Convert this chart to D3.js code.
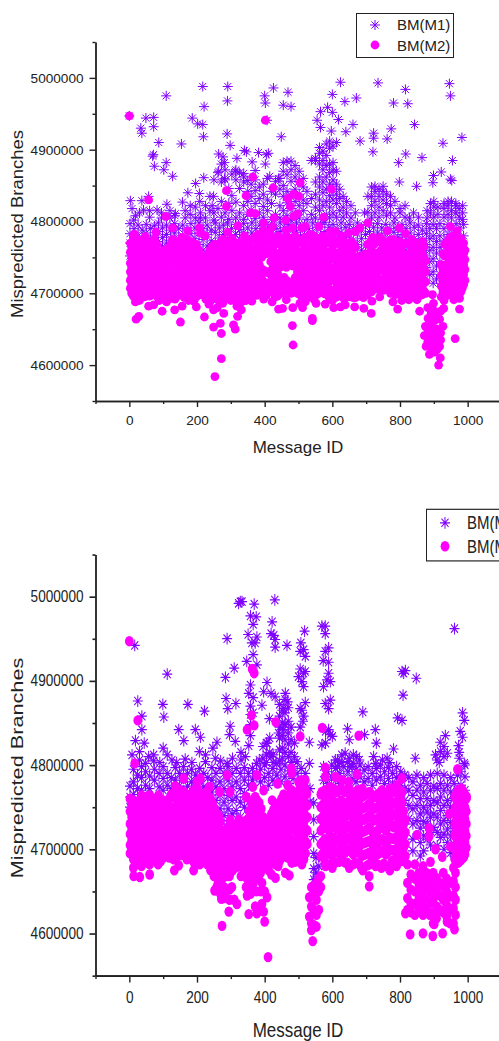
<!DOCTYPE html>
<html>
<head>
<meta charset="utf-8">
<script src="https://d3js.org/d3.v7.min.js"></script>
<style>
html, body {margin: 0; padding: 0; background: #fff;}
svg {display: block; overflow: hidden;}
text {font-family: "Liberation Sans", Arial, sans-serif; fill: #222;}
.axis path, .axis line {stroke: #222; stroke-width: 1.4;}
</style>
</head>
<body>
<svg width="499" height="1041"></svg>
<script>
// every row is [message id, branches in thousands, ...]
var xMajor = [0, 200, 400, 600, 800, 1000];
var xMinor = [-100, 100, 300, 500, 700, 900, 1100];
var yMajor = [4600, 4700, 4800, 4900, 5000];
var yMinor = [4550, 4650, 4750, 4850, 4950, 5050];
var seriesNames = ["BM(M1)", "BM(M2)"];

// first chart, M1 : scattered points above the band
var p1StarTop = [
[109,4975],[217,4988],[291,4988],[290,4968],[221,4960],[400,4975],[402,4965],[426,4986],[469,4980],[455,4962],[478,4960],
[624,4994],[600,4977],[735,4993],[637,4967],[671,4972],[781,4965],[816,4984],[823,4964],[946,4992],[949,4975],[586,4959],
[565,4953],[600,4952],[618,4942],[555,4941],[565,4931],[597,4926],[661,4935],[640,4925],[774,4929],[843,4935],[722,4923],
[722,4916],[762,4915],[682,4912],[720,4897],[983,4917],[927,4909],[817,4894],[796,4882],[865,4889],[955,4885],[922,4869],
[897,4854],[899,4864],[949,4859],[953,4857],[798,4855],[849,4849],[0,4947],[34,4930],[37,4923],[49,4944],[72,4945],[72,4932],
[87,4910],[154,4908],[186,4944],[202,4936],[217,4935],[219,4918],[289,4922],[298,4906],[407,4941],[449,4918],[71,4893],
[74,4877],[69,4891],[109,4882],[102,4872],[128,4863],[220,4861],[196,4853],[173,4840],[207,4839],[208,4828],[157,4827],
[111,4824],[3,4829],[37,4829],[57,4835],[8,4818],[13,4802],[42,4816],[82,4816],[136,4811],[249,4835],[245,4822],[180,4822],
[264,4894],[277,4890],[281,4882],[318,4888],[346,4897],[340,4899],[382,4896],[411,4895],[405,4893],[363,4883],[402,4880],
[264,4870],[281,4860],[313,4870],[338,4867],[372,4871],[415,4863],[441,4860]];
var p1StarMid = [
[18,4808],[30,4812],[60,4806,4815],[95,4805,4812],[120,4805,4815],[135,4808],[165,4805,4815],[180,4810],[195,4805,4820],[210,4805,4812],
[225,4805,4822],[238,4815,4835],[250,4802,4812,4858],[262,4818,4868],[272,4806,4828,4855,4880],[283,4812,4858,4872],
[294,4803,4825,4846],[303,4815,4836,4866],[315,4805,4827,4858,4872],[326,4812,4846,4868],[338,4803,4822,4855,4862],
[350,4810,4828,4842,4857],[360,4816,4835,4852],[372,4804,4825,4843,4858],[384,4812,4832,4848],[396,4806,4821,4838,4852],
[408,4815,4830,4860],[420,4803,4825,4842],[432,4810,4838,4856],[445,4805,4822,4845,4860],[455,4815,4835,4850,4870,4882],
[466,4808,4826,4842,4865,4884],[478,4802,4818,4836,4856,4872,4884],[490,4810,4828,4845,4862,4878],[502,4805,4822,4838,4855,4870],
[514,4815,4830,4848,4860],[525,4803,4825,4842],[538,4810,4832,4885],[550,4805,4820,4838,4855,4885,4888],
[562,4815,4830,4848,4862,4880,4895,4903],[572,4803,4822,4840,4855,4872,4885,4898],[582,4810,4828,4845,4862,4878,4892,4908],
[592,4805,4820,4836,4852,4868,4880,4902,4912],[602,4812,4830,4845,4858,4872,4882,4905],[612,4806,4825,4838,4852,4870,4910],
[622,4815,4832,4845],[632,4806,4820,4835],[642,4812,4828],[655,4805,4822],[668,4812],
[695,4812],[705,4813,4835],[716,4805,4822,4835,4848],[726,4812,4828,4842,4849],[738,4806,4820,4835,4845],[750,4815,4830,4842,4849],
[760,4808,4825,4838],[772,4812,4822,4835],[785,4805,4828],[800,4812,4818],[815,4806,4822],[828,4805],[840,4812],[855,4806],
[880,4805,4815],[890,4812,4825],[900,4806,4820,4828],[912,4810,4820],[930,4806,4818,4825],[942,4810,4822,4828],
[952,4805,4815,4828],[965,4812,4822,4825],[975,4806,4818],[985,4803,4812,4822]];
// first chart, M1 : the band that the M2 dots mostly cover
var p1StarBand = [
[2,4797,4783,4770,4752],[14,4790,4778,4762],[26,4795,4780,4768,4755],[38,4788,4772,4760],[50,4796,4784,4766,4752],[62,4790,4776,4758],
[74,4794,4781,4768],[86,4798,4786,4772,4758],[98,4791,4778,4765,4752],[110,4795,4782,4770,4756],[122,4788,4774,4760],
[134,4797,4784,4768,4754],[146,4790,4776,4762],[158,4795,4780,4766],[170,4788,4772,4758],[182,4797,4783,4770],[194,4791,4776,4762],
[206,4798,4784,4768,4755],[218,4790,4775,4760,4748],[230,4795,4782,4766,4752],[242,4788,4773,4758],[254,4798,4785,4770],
[266,4791,4777,4762],[278,4795,4782,4768],[290,4798,4786,4772],[302,4790,4776],[314,4796,4782,4768],[326,4789,4775],
[338,4797,4785],[350,4791,4778],[362,4798,4784],[374,4790,4776],[386,4795,4782],[398,4799,4788],[410,4792,4778],[422,4796,4784],
[434,4790,4776],[446,4798,4786],[458,4792,4778],[470,4796,4782],[482,4790,4776],[494,4798,4785],[506,4792,4778],[518,4796,4782],
[530,4790,4776],[542,4798,4784],[554,4792,4778],[566,4796,4782],[578,4799,4786],[590,4792,4778],[602,4796,4783],[614,4790,4776],
[626,4798,4785],[638,4792,4778],[650,4796,4782],[662,4790,4774,4762],[674,4798,4784,4768,4752],[686,4791,4776,4760,4748],
[698,4796,4782,4766,4754],[710,4798,4786,4772],[722,4792,4778],[734,4797,4784],[746,4791,4776],[758,4796,4783],[770,4790,4775],
[782,4798,4785],[794,4792,4778],[806,4796,4782,4766],[818,4790,4775,4760],[830,4798,4784,4768,4754],[842,4792,4776,4762],
[854,4795,4782,4765],[866,4788,4774,4760],[878,4797,4783,4768,4752,4736],[888,4790,4776,4760,4744,4726],[898,4796,4780,4764,4748,4730,4714],
[908,4790,4772,4756,4738,4720],[918,4797,4780,4764,4744],[930,4790,4774,4758],[942,4796,4782,4766],[954,4790,4776],
[966,4797,4784,4770],[978,4791,4776],[988,4796,4780]];

// first chart, M2
var p1DotTop = [
[0,4947],[402,4941],[365,4862],[505,4854],[425,4847],[597,4845],[287,4843],[345,4836],[57,4830],[486,4838],[469,4832],[500,4835],
[287,4821],[476,4821],[358,4812],[372,4811],[498,4811],[108,4807],[574,4806],[486,4807],[705,4798],[128,4791],[79,4785],[15,4782],
[47,4779],[173,4787],[207,4791],[210,4784],[224,4780],[291,4785],[321,4794],[340,4780],[397,4798],[397,4788],[428,4805],[423,4793],
[462,4802],[463,4788],[482,4791],[510,4791],[520,4793],[560,4793],[594,4786],[609,4786],[648,4784],[668,4786],[681,4791],[762,4787],
[798,4791],[816,4783],[949,4793],[969,4787],[415,4785],[380,4782],[440,4780],[535,4782],[625,4780],[720,4778],[740,4778],[780,4775],[835,4775]];
var p1DotLow = [
[3,4707],[20,4664],[28,4668],[18,4688],[57,4682],[72,4684],[97,4675],[134,4677],[156,4682],[151,4660],[198,4681],[222,4667],[249,4653],
[269,4658],[272,4644],[272,4609],[253,4584],[279,4672],[249,4677],[308,4656],[313,4650],[331,4677],[320,4668],[362,4689],[397,4692],
[422,4688],[441,4678],[453,4679],[464,4691],[483,4680],[482,4655],[484,4628],[512,4680],[541,4665],[541,4662],[552,4686],[579,4685],
[604,4680],[624,4681],[638,4684],[666,4681],[693,4679],[715,4672],[717,4689],[793,4678],[779,4688],[826,4691],[858,4675],[850,4691],
[976,4678],[963,4637],[959,4691],[976,4693],[896,4698],[899,4686],[883,4665],[875,4654],[872,4641],[877,4626],[887,4615],[919,4610],
[914,4600],[917,4626],[927,4654],[917,4664],[929,4679],[30,4690],[45,4695],[88,4690],[110,4688],[175,4690],[235,4685],[260,4680],[300,4690],
[345,4690],[520,4688],[590,4695],[650,4695],[740,4695],[805,4690],[840,4695],[930,4690],
[882,4680,4650,4632],[892,4672,4656,4640,4625],[902,4675,4662,4645,4630,4618],[910,4668,4650,4635,4622],[920,4675,4645,4635]];
var p1DotCore = [
[3,4770,4757,4742,4730,4718],[12,4780,4765,4750,4735,4722,4708,4696],[24,4775,4760,4745,4730,4715,4702],[36,4768,4755,4742,4726,4712,4698],
[48,4772,4758,4745,4732,4718,4704],[60,4770,4755,4738,4725,4710,4696],[74,4775,4760,4748,4732,4718,4702],[88,4758,4742,4728,4712,4700],
[102,4760,4748,4735,4720,4705,4692],[115,4763,4752,4738,4722,4708,4695],[128,4775,4760,4745,4730,4715,4700],[142,4772,4755,4742,4728,4712,4698],
[156,4778,4762,4748,4735,4718,4702],[170,4775,4760,4745,4730,4715,4700],[184,4772,4758,4742,4728,4712,4696],[198,4768,4752,4738,4725,4710,4695],
[212,4752,4740,4726,4712,4698],[226,4748,4735,4722,4708,4692],[238,4760,4745,4730,4715,4700,4688],[252,4768,4755,4740,4725,4710,4695],
[264,4762,4748,4735,4720,4705,4690],[276,4775,4760,4745,4730,4715,4700,4686],[290,4770,4758,4742,4728,4712,4698],[304,4776,4760,4748,4732,4716,4700],
[318,4770,4755,4740,4725,4710,4695,4682],[332,4772,4758,4744,4730,4715,4700,4688],[346,4775,4760,4745,4732,4718,4702],[358,4772,4755,4740,4726,4712,4698],
[370,4778,4762,4748,4732,4718,4704],[384,4770,4756,4740,4728,4712],[398,4776,4760,4732,4716,4700],[412,4772,4758,4730,4715,4702],
[424,4778,4762,4748,4735,4720,4705],[438,4772,4755,4742,4728,4712,4696],[452,4775,4760,4745,4715,4700],[464,4780,4765,4750,4736,4718,4704],
[478,4776,4760,4745,4712,4700],[490,4780,4765,4750,4738,4722,4706],[504,4772,4758,4742,4728,4712,4698,4686],[518,4778,4762,4748,4732,4718,4702],
[532,4775,4760,4745,4730,4715,4700],[546,4780,4764,4748,4735,4720,4705,4692],[560,4776,4760,4745,4730,4715,4700],[572,4780,4765,4750,4735,4720,4705],
[586,4772,4758,4742,4728,4712,4698],[600,4776,4760,4748,4732,4718,4700,4690],[614,4772,4756,4742,4726,4712,4695],[628,4778,4762,4748,4732,4716,4700],
[642,4770,4755,4740,4728,4712,4696],[656,4772,4758,4745,4730,4715,4700],[668,4764,4750,4738,4722,4708,4694],[680,4752,4738,4725,4710,4696],
[692,4748,4736,4722,4708,4694],[704,4768,4752,4738,4726,4710,4698],[716,4775,4760,4745,4730,4715,4702],[730,4772,4756,4742,4726,4712],
[744,4776,4760,4745,4732,4716],[758,4770,4755,4740,4726,4712],[772,4774,4758,4742,4728,4714,4700],[786,4770,4756,4740,4726,4712,4698],
[800,4772,4758,4745,4730,4715,4700],[814,4770,4755,4740,4726,4712,4698],[826,4755,4740,4728,4712,4698],[840,4772,4758,4745,4730,4715,4702],
[854,4768,4752,4738,4722,4708,4695],[866,4772,4755,4740,4726,4710,4698],[876,4745,4730,4716,4700],[922,4740,4725,4710,4695],[932,4768,4752,4738,4722,4708,4694],
[944,4775,4760,4745,4730,4716,4702],[956,4780,4765,4750,4735,4720,4705],[968,4778,4762,4748,4732,4718,4704],[980,4776,4760,4745,4730,4716,4702],[988,4770,4755,4740,4726,4712]];
var p1DotFill = [
[7,4764,4750,4736,4724,4711,4700],[18,4772,4757,4743,4728,4715,4702],[30,4768,4752,4737,4722,4708,4695],[42,4762,4748,4734,4719,4705],
[54,4765,4751,4738,4725,4711,4697],[67,4763,4747,4731,4717,4703],[81,4768,4752,4740,4725,4710,4696],[95,4752,4735,4720,4706,4694],
[108,4755,4742,4727,4713,4699],[122,4767,4752,4737,4722,4707,4693],[135,4766,4751,4736,4721,4706,4692],[149,4770,4757,4741,4726,4710,4697],
[163,4770,4754,4739,4725,4708,4694],[177,4767,4752,4736,4722,4707,4693],[191,4763,4747,4733,4718,4703,4689],[205,4760,4745,4731,4717,4703],
[219,4746,4732,4718,4703],[232,4754,4738,4726,4711,4696],[245,4765,4750,4736,4720,4706,4692],[258,4760,4745,4730,4716,4702],
[270,4770,4753,4738,4725,4710,4694],[283,4765,4750,4735,4722,4706,4692],[297,4772,4755,4740,4724,4708,4694],[311,4768,4750,4733,4718,4703,4690],
[325,4765,4750,4736,4722,4706,4692],[339,4770,4752,4738,4724,4709,4695],[352,4768,4750,4735,4720,4705],[364,4775,4758,4743,4729,4714,4700],
[377,4772,4755,4741,4725,4710,4697],[391,4780,4766,4750,4734,4720,4705],[405,4770,4755,4729,4712,4697],[418,4775,4760,4744,4726,4710],
[431,4770,4756,4738,4722,4708,4695],[445,4768,4750,4736,4720,4705],[458,4770,4754,4740,4722,4708],[471,4772,4758,4744,4716,4702],
[484,4770,4752,4738,4716,4703],[497,4775,4758,4744,4730,4714,4700],[511,4770,4752,4735,4720,4705,4692],[525,4772,4755,4740,4725,4710,4695],
[539,4770,4752,4738,4722,4708,4694],[553,4772,4756,4740,4725,4710,4698],[566,4770,4755,4738,4724,4708],[579,4775,4758,4744,4728,4714,4699],
[593,4770,4752,4736,4720,4705],[607,4768,4750,4736,4722,4705,4694],[621,4770,4752,4738,4722,4706],[635,4772,4756,4740,4724,4708,4692],
[649,4765,4750,4735,4722,4706],[662,4768,4752,4738,4724,4708,4694],[675,4744,4730,4715,4702],[686,4743,4730,4716,4702],
[698,4755,4743,4730,4716,4702],[710,4770,4756,4743,4722,4706],[723,4768,4752,4737,4722,4707],[737,4772,4750,4735,4720,4705],
[751,4768,4748,4733,4719,4704],[765,4772,4763,4748,4734,4719,4705],[779,4768,4750,4735,4720,4706],[793,4765,4750,4734,4719,4705],
[807,4766,4750,4736,4722,4708],[820,4748,4734,4720,4705],[833,4765,4750,4736,4722,4708],[847,4770,4752,4738,4722,4708,4695],
[860,4762,4746,4732,4716,4702],[871,4765,4748,4733,4718,4703],[927,4755,4733,4718,4702],[938,4770,4755,4738,4724,4710,4697],
[950,4778,4758,4742,4727,4712,4698],[962,4772,4756,4741,4725,4711,4698],[974,4770,4754,4739,4725,4710,4697],[984,4766,4750,4735,4721,4707],
[992,4760,4747,4733,4718]];

// second chart, M1
var p2StarTop = [
[323,4992],[333,4994],[328,4994],[369,4991],[430,4996],[422,4970],[358,4977],[375,4976],[366,4967],[569,4965],[579,4965],[579,4956],
[518,4959],[351,4955],[377,4952],[419,4956],[427,4954],[431,4949],[431,4940],[466,4942],[289,4950],[16,4942],[362,4945],[372,4945],
[366,4931],[507,4945],[505,4935],[515,4937],[520,4929],[589,4939],[579,4935],[573,4924],[589,4922],[347,4923],[377,4919],[310,4915],
[284,4904],[112,4908],[505,4914],[515,4909],[500,4905],[520,4911],[510,4899],[515,4893],[589,4909],[584,4901],[594,4899],[574,4893],
[806,4911],[816,4912],[811,4909],[809,4883],[848,4903],[358,4895],[353,4885],[407,4898],[397,4887],[419,4885],[431,4881],[461,4885],
[286,4879],[291,4867],[315,4873],[392,4871],[99,4872],[102,4857],[25,4876],[37,4858],[173,4872],[222,4864],[468,4875],[456,4867],
[505,4867],[520,4874],[510,4865],[579,4873],[594,4877],[589,4867],[690,4863],[793,4856],[806,4853],[961,4962],[985,4862],[990,4853],
[978,4840],[985,4833],[513,4852],[298,4846],[146,4842],[195,4842],[210,4833],[161,4829],[37,4842],[18,4829],[44,4826],[100,4820],
[207,4816],[247,4820],[259,4827],[296,4836],[313,4828],[353,4823],[414,4855],[441,4838],[456,4842],[645,4843],[650,4830],[695,4836],
[727,4842],[730,4826],[589,4842],[594,4836],[569,4824],[532,4827],[781,4819],[845,4808],[919,4827],[934,4835],[973,4823],[940,4814]];
var p2StarMid = [
[57,4810],[126,4806],[165,4807],[254,4808],[289,4802],[343,4810],[384,4806],[419,4810],[407,4826],[532,4802],[609,4806],[638,4814],
[672,4810],[722,4810],[762,4808],[909,4806],[990,4802],[358,4870,4860,4848,4835],[366,4880,4862],[405,4826,4812,4803],[415,4832,4815],
[395,4822,4808],[425,4812,4803],[444,4872,4858,4845,4832,4818,4805],[452,4865,4850,4835,4820,4808],[460,4878,4862,4848,4830,4815],
[470,4868,4852,4838,4825,4810],[478,4845,4830,4815,4803],[488,4826,4810],[505,4845],[515,4858],[580,4840,4826],[600,4834],
[920,4816],[930,4822,4810],[975,4815,4808],[615,4798,4806],[628,4803,4812],[650,4808,4798],[662,4812,4802],[680,4806],[728,4802],[748,4806],[770,4803],[905,4812],[916,4803],
[8,4812],[30,4806,4816],[48,4802],[72,4805,4812],[90,4803],[112,4812],[140,4803],[185,4803],[225,4804,4812],[270,4805],[305,4808],[330,4806,4815]];
var p2StarBand = [
[2,4775,4762,4750],[12,4795,4780,4765],[24,4788,4772,4758],[36,4798,4785,4770],[48,4792,4776],[60,4787,4772],[74,4795,4782],[88,4790,4774],
[100,4798,4784,4770],[112,4790,4776],[124,4785,4772],[136,4797,4782],[148,4790,4775],[160,4798,4784],[172,4790,4775],[184,4795,4780],
[196,4788,4772],[208,4796,4782],[220,4790,4774],[232,4785,4770],[244,4797,4782,4768],[256,4790,4774,4758],[268,4796,4780,4765,4748,4734],
[280,4790,4772,4756,4740,4725],[292,4798,4782,4764,4748,4730],[304,4790,4774,4758,4742,4726],[316,4796,4780,4762,4746,4730],
[328,4790,4772,4756,4738,4722],[340,4797,4782,4766,4750],[352,4790,4776],[364,4796,4782],[376,4802,4788],[388,4795,4780],[400,4800,4785],
[412,4790,4776],[424,4796,4782],[436,4802,4788],[448,4795,4780],[460,4800,4786],[472,4793,4778],[484,4798,4784],[496,4804,4790],
[508,4796,4782],[520,4790,4776],[534,4772,4756],[545,4755,4735,4715,4695,4677,4664],[552,4690,4672,4665],[560,4680],[574,4798,4782],[586,4792,4778],
[598,4800,4786],[610,4796,4782],[622,4803,4790,4778],[634,4798,4784],[646,4804,4792,4778],[658,4798,4784],[670,4795,4780],[682,4800,4786],
[694,4794,4780],[706,4798,4784],[718,4790,4776],[730,4796,4782],[742,4800,4786],[754,4792,4778],[766,4797,4784],[778,4790,4776],
[790,4798,4785],[802,4792,4776],[814,4788,4772,4758],[826,4785,4770,4752,4736],[838,4780,4764,4748,4730,4712,4698],[850,4788,4770,4752,4734],
[860,4776,4760,4742,4725,4708,4692],[870,4785,4768,4750,4733,4716,4698],[880,4778,4760,4744,4730,4712],[890,4788,4770,4752,4738,4722,4705],
[900,4775,4758,4742,4726],[910,4790,4772,4755,4738,4720,4704],[920,4778,4762,4746,4730,4714],[930,4788,4770,4752,4734,4718,4700],
[940,4776,4758,4740,4724,4708],[950,4785,4768,4750,4732,4716,4696],[960,4778,4760,4742,4725,4706,4692],[970,4788,4770,4752],[980,4792,4776],[992,4800,4786,4770]];

// second chart, M2
var p2DotTop = [
[0,4947],[363,4914],[369,4909],[25,4853],[361,4859],[369,4847],[348,4842],[433,4851],[505,4834],[570,4844],[678,4835],[16,4802],
[479,4796],[579,4797],[970,4795],[136,4775],[161,4784],[200,4780],[210,4784],[237,4774],[267,4768],[289,4788],[298,4768],[377,4788],
[365,4774],[397,4770],[346,4762],[422,4758],[438,4778],[468,4776],[481,4790],[510,4782],[520,4782],[500,4780],[525,4766],[579,4786],
[569,4768],[594,4774],[609,4786],[629,4782],[648,4780],[673,4789],[689,4772],[732,4762],[762,4760],[790,4776],[806,4784],[806,4768],
[973,4766],[997,4762],[850,4717],[886,4725],[886,4715],[905,4700],[946,4742],[949,4703],[890,4685],[925,4691],[988,4691]];
var p2DotLow = [
[410,4572],[274,4609],[400,4614],[542,4591],[830,4599],[868,4600],[897,4597],[926,4600],[961,4605],[901,4611],[816,4624],[939,4614],
[353,4623],[377,4624],[397,4626],[372,4632],[294,4626],[318,4635],[272,4641],[252,4651],[303,4655],[358,4647],[407,4643],[392,4635],
[13,4668],[31,4667],[60,4670],[133,4675],[146,4681],[190,4675],[85,4682],[709,4656],[709,4668],[461,4672],[473,4669],[432,4666],
[382,4666],[250,4668],[262,4660],[275,4665],[285,4650],[290,4668],[310,4640],[345,4655],[352,4668],[367,4660],[392,4660],[400,4650],
[420,4670],[440,4680],[305,4675],[325,4680],[340,4675],[370,4680],[395,4678],[412,4675],[20,4685],[45,4688],[100,4690],[170,4688],
[190,4685],[230,4682],[240,4675],[490,4685],[510,4682],[580,4680],[600,4678],[650,4678],[690,4675],[715,4685],[745,4678],[770,4675],[790,4680],
[258,4672,4655],[268,4675,4662,4648],[280,4670,4655,4642],[296,4668,4652,4640],[330,4668],[348,4665,4645],[360,4670,4655],[375,4672,4650],[388,4672,4650,4628],
[532,4643,4620],[538,4655,4632,4612,4604],[546,4648,4628,4610],[553,4660,4640,4622,4608],[560,4665,4650,4628],[566,4668,4655],
[822,4682,4660,4642,4628],[832,4670,4652,4636,4625],[844,4682,4665,4650,4635,4622],[856,4672,4658,4642,4628],[868,4680,4665,4650,4635,4622],
[878,4672,4656,4640,4628],[888,4664,4650,4636,4622],[898,4672,4656,4640,4625,4612],[908,4666,4650,4632,4618],[918,4660,4645,4628],
[928,4672,4656,4640,4625],[938,4665,4650,4634,4620],[948,4660,4644,4628,4612],[958,4678,4662,4645,4630,4612],[964,4672,4655,4640,4622]];
var p2DotCore = [
[2,4760,4745,4730,4718,4705,4695],[12,4758,4744,4730,4716,4702,4688,4678],[24,4752,4738,4725,4712,4698,4685],[36,4764,4750,4735,4722,4708,4694,4680],
[48,4762,4748,4732,4718,4704,4690],[60,4764,4750,4736,4722,4708,4695,4682],[72,4760,4745,4732,4718,4704,4690],[86,4764,4750,4736,4722,4706,4692],
[100,4758,4745,4730,4716,4702],[112,4754,4740,4726,4712,4698],[124,4765,4750,4736,4722,4708,4695],[138,4760,4746,4732,4718,4704,4690],
[150,4770,4756,4742,4728,4714,4700],[162,4768,4752,4738,4724,4710,4696],[176,4762,4748,4734,4720,4706,4692],[190,4770,4756,4742,4726,4712,4698],
[202,4772,4758,4744,4730,4716,4702,4688],[214,4765,4750,4736,4722,4708,4694],[228,4768,4754,4740,4726,4712,4698],[240,4760,4746,4730,4716,4702,4690],
[252,4748,4734,4720,4706,4692,4680],[264,4740,4726,4712,4698,4684],[274,4722,4708,4694,4680],[286,4718,4704,4690,4676],[298,4735,4722,4708,4694,4682],
[312,4728,4714,4700,4686],[324,4735,4720,4706,4692,4680],[336,4720,4706,4692,4684],[348,4735,4722,4708,4694,4680],[360,4755,4740,4726,4712,4698,4686],
[372,4762,4748,4734,4720,4706,4692,4680],[384,4755,4740,4724,4710,4696,4684],[396,4738,4724,4710,4696,4684],[408,4730,4716,4702,4690,4680],
[420,4742,4728,4714,4700,4688],[432,4752,4738,4724,4710,4696,4682],[444,4755,4740,4726,4712,4698,4686],[456,4765,4750,4736,4722,4708,4694],
[468,4760,4746,4732,4718,4704,4690],[480,4770,4756,4742,4728,4712,4698,4684],[492,4765,4750,4736,4722,4708,4694],[504,4772,4758,4744,4730,4716,4702,4688],
[516,4775,4760,4746,4732,4716,4702,4688],[526,4752,4738,4722,4706],[566,4765,4750,4736,4722,4706,4692],[578,4770,4756,4742,4728,4712,4698,4684],
[590,4765,4750,4736,4722,4708,4694],[602,4772,4758,4744,4730,4714,4700,4686],[614,4768,4752,4738,4724,4710,4696],[626,4772,4758,4744,4730,4716,4702,4688],
[638,4768,4752,4738,4724,4710,4696,4684],[650,4772,4758,4744,4728,4714,4700],[662,4765,4750,4736,4722,4708,4694,4682],[674,4770,4756,4742,4728,4714,4700],
[686,4762,4748,4734,4720,4706,4692,4678],[698,4765,4750,4736,4722,4708,4694],[710,4768,4754,4740,4726,4710,4696,4682],[722,4762,4748,4734,4718,4704,4692],
[734,4765,4750,4736,4722,4708,4694,4682],[746,4770,4756,4742,4728,4712,4698],[758,4765,4750,4736,4722,4708,4694,4680],[770,4772,4758,4744,4730,4714,4700],
[782,4768,4754,4740,4726,4712,4698,4684],[794,4772,4758,4744,4730,4716,4702,4690],[806,4755,4740,4726,4712,4698,4686],[816,4735,4720,4706,4692],
[962,4762,4748,4730,4716,4700,4688],[972,4770,4756,4742,4728,4712,4698,4684],[982,4772,4758,4744,4730,4716,4702,4688],[992,4765,4750,4736,4722,4708,4694]];
var p2DotFill = [
[7,4752,4738,4724,4711,4698],[18,4752,4737,4723,4709,4695,4682],[30,4758,4744,4731,4716,4703,4690],[42,4757,4743,4728,4715,4701,4687],
[54,4756,4741,4725,4711,4697,4684],[66,4757,4743,4729,4715,4701,4688],[79,4755,4738,4725,4711,4697],[93,4757,4743,4729,4714,4699,4686],
[106,4752,4737,4723,4709,4695],[118,4760,4745,4731,4717,4703,4690],[131,4762,4743,4729,4715,4701,4688],[144,4765,4753,4739,4725,4711,4697],
[156,4762,4749,4735,4721,4707,4693],[169,4765,4755,4741,4727,4713,4699],[183,4766,4752,4738,4723,4709,4695],[196,4765,4749,4736,4722,4707,4692],
[208,4766,4751,4737,4723,4709,4695,4682],[221,4760,4745,4731,4717,4703,4688],[234,4762,4747,4733,4719,4705,4692],[246,4754,4738,4723,4709,4696,4683],
[258,4742,4727,4713,4699,4686,4672],[269,4733,4719,4705,4691,4677],[280,4714,4700,4686,4672],[292,4726,4712,4698,4684],[305,4730,4716,4701,4688,4675],
[318,4721,4707,4693,4679],[330,4727,4713,4699,4686],[342,4728,4714,4700,4687],[354,4745,4731,4717,4703,4690,4676],[366,4758,4744,4730,4716,4702,4688],
[378,4758,4742,4727,4713,4699,4686],[390,4748,4732,4717,4703,4690,4676],[402,4734,4720,4706,4693,4680],[414,4736,4722,4708,4695,4683],
[426,4747,4733,4719,4705,4692],[438,4754,4731,4717,4703,4689],[450,4760,4745,4731,4717,4703,4690],[462,4763,4753,4739,4725,4711,4697],
[474,4765,4751,4737,4723,4708,4694],[486,4767,4753,4739,4725,4710,4696],[498,4768,4754,4740,4726,4712,4698],[510,4773,4760,4746,4732,4718,4703,4690],
[521,4770,4753,4739,4724,4709,4695],[572,4768,4753,4739,4725,4709,4695],[584,4767,4753,4739,4725,4710,4696,4682],[596,4768,4754,4740,4726,4712,4698],
[608,4770,4755,4741,4727,4711,4697,4684],[620,4770,4755,4741,4727,4713,4699,4685],[632,4770,4755,4741,4727,4713,4699],[644,4770,4755,4741,4726,4712,4698,4684],
[656,4768,4754,4740,4725,4711,4697],[668,4767,4753,4739,4725,4711,4697,4684],[680,4765,4752,4738,4724,4710,4696,4682],[692,4763,4749,4735,4721,4707,4693],
[704,4766,4752,4738,4724,4709,4695,4681],[716,4765,4751,4737,4722,4707,4694],[728,4763,4749,4735,4720,4706,4693,4680],[740,4767,4753,4739,4725,4710,4696],
[752,4767,4753,4739,4725,4710,4696,4683],[764,4768,4754,4740,4726,4711,4697],[776,4770,4756,4742,4728,4713,4699,4686],[788,4770,4756,4742,4728,4714,4700,4687],
[800,4763,4749,4735,4721,4707,4694],[811,4745,4730,4716,4702,4690],[967,4766,4752,4736,4722,4706,4692],[977,4771,4757,4743,4729,4714,4700,4686],
[987,4768,4754,4740,4726,4712,4698,4690],[996,4760,4745,4730,4716,4702]];

var x = d3.scaleLinear().domain([-100, 1100]).range([95.5, 501.5]);
var y = d3.scaleLinear().domain([4550, 5050]).range([401, 42]);

// 8 armed star, the same marker the plot uses
var starSymbol = {
  draw: function(ctx, size) {
    var r = Math.sqrt(size);
    for (var i = 0; i < 4; i++) {
      var a = i * Math.PI / 4;
      ctx.moveTo(-r * Math.cos(a), -r * Math.sin(a));
      ctx.lineTo(r * Math.cos(a), r * Math.sin(a));
    }
  }
};
var star = d3.symbol().type(starSymbol).size(25)();

function flat(rows) {
  return rows.flatMap(function(r) {
    return r.slice(1).map(function(v) { return {id: r[0], value: v}; });
  });
}

function drawChart(g, stars, dots, legendX, legendY) {
  g.append("g").selectAll("path")
    .data(flat(stars))
    .enter().append("path")
    .attr("d", star)
    .attr("transform", function(d) { return "translate(" + x(d.id) + "," + y(d.value) + ")"; })
    .attr("fill", "none")
    .attr("stroke", "#7f00ff")
    .attr("stroke-width", 1);

  g.append("g").selectAll("circle")
    .data(flat(dots))
    .enter().append("circle")
    .attr("cx", function(d) { return x(d.id); })
    .attr("cy", function(d) { return y(d.value); })
    .attr("r", 4.4)
    .attr("fill", "#ff00ff");

  // minor ticks first, then the labelled ones
  g.append("g").attr("class", "axis").attr("transform", "translate(0,401)")
    .call(d3.axisBottom(x).tickValues(xMinor).tickFormat("").tickSize(3).tickSizeOuter(0));
  g.append("g").attr("class", "axis").attr("transform", "translate(95.5,0)")
    .call(d3.axisLeft(y).tickValues(yMinor).tickFormat("").tickSize(3).tickSizeOuter(0));

  var xAxis = g.append("g").attr("class", "axis").attr("transform", "translate(0,401)")
    .call(d3.axisBottom(x).tickValues(xMajor).tickFormat(d3.format("d")).tickSize(6).tickSizeOuter(0).tickPadding(8));
  var yAxis = g.append("g").attr("class", "axis").attr("transform", "translate(95.5,0)")
    .call(d3.axisLeft(y).tickValues(yMajor).tickFormat(function(d) { return d * 1000; }).tickSize(6).tickSizeOuter(0).tickPadding(6));
  xAxis.selectAll("text").attr("font-size", 13.6).style("font-family", '"Liberation Sans"');
  yAxis.selectAll("text").attr("font-size", 13.6).style("font-family", '"Liberation Sans"');

  g.append("text").attr("x", 298).attr("y", 453)
    .attr("text-anchor", "middle").attr("font-size", 17)
    .text("Message ID");
  g.append("text").attr("transform", "translate(23,224) rotate(-90)")
    .attr("text-anchor", "middle").attr("font-size", 16.5)
    .attr("textLength", 188).attr("lengthAdjust", "spacingAndGlyphs")
    .text("Mispredicted Branches");

  var legend = g.append("g").attr("transform", "translate(" + legendX + "," + legendY + ")");
  legend.append("rect").attr("x", 0.5).attr("y", 0.5).attr("width", 97).attr("height", 44)
    .attr("fill", "#fff").attr("stroke", "#222").attr("stroke-width", 1);
  legend.append("path").attr("d", star).attr("transform", "translate(19,12)")
    .attr("fill", "none").attr("stroke", "#7f00ff").attr("stroke-width", 1);
  legend.append("circle").attr("cx", 19).attr("cy", 32).attr("r", 4.4).attr("fill", "#ff00ff");
  legend.selectAll("text").data(seriesNames).enter().append("text")
    .attr("x", 41)
    .attr("y", function(d, i) { return 17 + i * 20.5; })
    .attr("font-size", 15)
    .text(function(d) { return d; });
}

var svg = d3.select("svg");

drawChart(svg.append("g"),
  p1StarBand.concat(p1StarMid, p1StarTop),
  p1DotCore.concat(p1DotFill, p1DotLow, p1DotTop),
  356, 13);

// second chart is the same plot stretched vertically
drawChart(svg.append("g").attr("transform", "translate(0,505.2) scale(1,1.173)"),
  p2StarBand.concat(p2StarMid, p2StarTop),
  p2DotCore.concat(p2DotFill, p2DotLow, p2DotTop),
  426, 3);
</script>
</body>
</html>
